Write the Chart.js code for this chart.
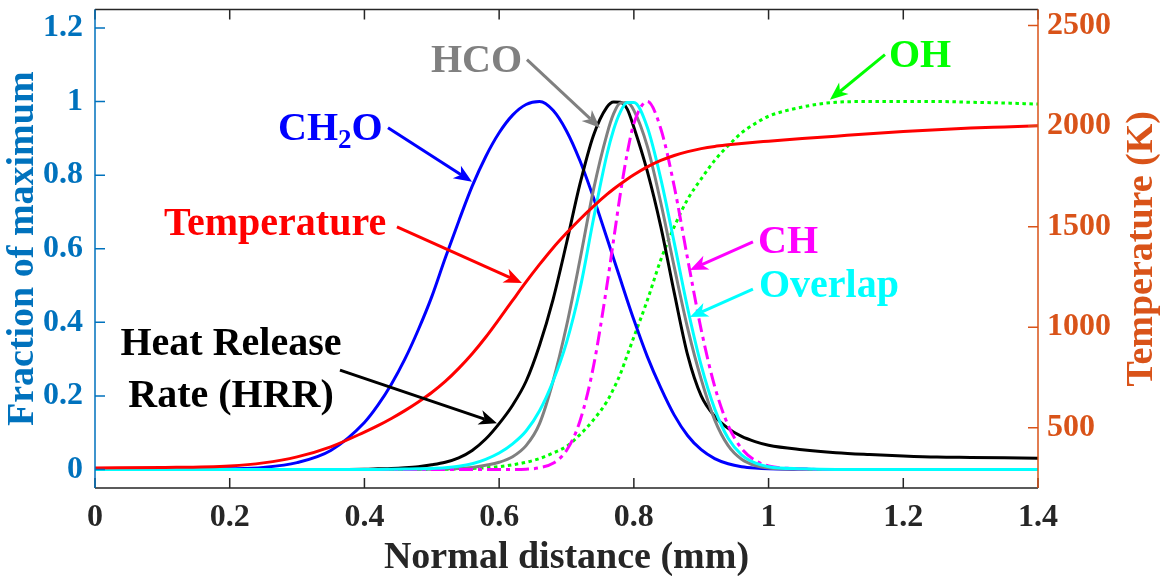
<!DOCTYPE html>
<html>
<head>
<meta charset="utf-8">
<title>Flame structure</title>
<script src="https://cdn.jsdelivr.net/npm/chart.js@4.4.1/dist/chart.umd.min.js"></script>
<style>
  body { margin: 0; background: #fff; }
  #wrap { width: 1160px; height: 576px; }
</style>
</head>
<body>
<div id="wrap"><canvas id="flame-chart"></canvas></div>
<script>
// normal distance through the flame front (mm)
const distance = [0, 0.1, 0.2, 0.25, 0.3, 0.35,
    0.4, 0.42, 0.44, 0.46, 0.48, 0.5, 0.52, 0.54, 0.56, 0.58,
    0.6, 0.62, 0.64, 0.66, 0.68, 0.7, 0.72, 0.74, 0.76,
    0.77, 0.78, 0.79,
    0.8, 0.82, 0.84, 0.86, 0.88, 0.9, 0.92, 0.94, 0.96, 0.98,
    1.0, 1.05, 1.1, 1.15, 1.2, 1.25, 1.3, 1.35, 1.4];

// fractions of maximum (left axis)
const ch2o = [0, 0, 0.002, 0.006, 0.019, 0.052,
    0.128, 0.175, 0.232, 0.3, 0.38, 0.47, 0.575, 0.675, 0.77, 0.85,
    0.915, 0.963, 0.992, 1.0, 0.976, 0.92, 0.839, 0.739, 0.629,
    0.573, 0.517, 0.461,
    0.407, 0.307, 0.222, 0.148, 0.092, 0.054, 0.03, 0.016, 0.008, 0.004,
    0.002, 0.001, 0, 0, 0, 0, 0, 0, 0];
const hrr = [0, 0, 0, 0, 0, 0.0005,
    0.001, 0.002, 0.003, 0.005, 0.008, 0.013, 0.02, 0.032, 0.052, 0.083,
    0.125, 0.175, 0.24, 0.338, 0.462, 0.615, 0.776, 0.908, 0.985,
    0.999, 0.998, 0.98,
    0.93, 0.81, 0.66, 0.48, 0.31, 0.2, 0.145, 0.112, 0.09, 0.076,
    0.066, 0.054, 0.046, 0.041, 0.037, 0.034, 0.033, 0.032, 0.031];
const hco = [0, 0, 0, 0, 0, 0,
    0, 0, 0, 0, 0.0005, 0.001, 0.002, 0.003, 0.006, 0.012,
    0.02, 0.035, 0.065, 0.125, 0.24, 0.39, 0.57, 0.76, 0.911,
    0.967, 0.996, 0.997,
    0.976, 0.878, 0.725, 0.55, 0.383, 0.245, 0.135, 0.065, 0.028, 0.011,
    0.004, 0.001, 0, 0, 0, 0, 0, 0, 0];
const ch = [0, 0, 0, 0, 0, 0,
    0, 0, 0, 0, 0, 0, 0, 0, 0, 0,
    0, 0, 0.001, 0.005, 0.017, 0.052, 0.132, 0.28, 0.5,
    0.625, 0.75, 0.858,
    0.94, 1.0, 0.926, 0.769, 0.571, 0.38, 0.226, 0.12, 0.057, 0.025,
    0.01, 0.002, 0, 0, 0, 0, 0, 0, 0];
const overlap = [0, 0, 0, 0, 0, 0,
    0, 0.0005, 0.001, 0.0015, 0.002, 0.003, 0.005, 0.009, 0.016, 0.028,
    0.045, 0.07, 0.105, 0.16, 0.24, 0.345, 0.49, 0.68, 0.856,
    0.924, 0.972, 0.997,
    0.997, 0.93, 0.79, 0.616, 0.437, 0.283, 0.165, 0.085, 0.04, 0.018,
    0.008, 0.002, 0, 0, 0, 0, 0, 0, 0];
const oh = [0, 0, 0, 0, 0, 0,
    0, 0, 0, 0, 0, 0, 0.001, 0.002, 0.003, 0.005,
    0.008, 0.013, 0.02, 0.03, 0.045, 0.063, 0.095, 0.135, 0.185,
    0.22, 0.26, 0.31,
    0.36, 0.46, 0.57, 0.66, 0.735, 0.79, 0.84, 0.88, 0.915, 0.94,
    0.96, 0.985, 0.998, 1.0, 1.0, 1.0, 0.998, 0.996, 0.993];

// temperature (K, right axis)
const temperature = [300, 302, 310, 325, 355, 405,
    478, 510, 546, 585, 628, 675, 730, 795, 868, 950,
    1040, 1133, 1225, 1312, 1394, 1468, 1537, 1601, 1660,
    1687, 1712, 1736,
    1758, 1797, 1829, 1854, 1873, 1888, 1899, 1907, 1914, 1920,
    1925, 1938, 1950, 1962, 1973, 1982, 1990, 1996, 2002];

const distanceTicks = [0, 0.2, 0.4, 0.6, 0.8, 1, 1.2, 1.4];
const fractionTicks = [0, 0.2, 0.4, 0.6, 0.8, 1, 1.2];
const temperatureTicks = [500, 1000, 1500, 2000, 2500];

const FONT = '"Liberation Serif", "Times New Roman", serif';
const LEFT_BLUE = '#0072BD';
const RIGHT_ORANGE = '#D95319';
const AXIS_GREY = '#262626';

// callouts, placed in (distance, fraction) units; '|' marks a subscript
const notes = [
    { text: 'CH|2|O', color: '#0000FF', at: [0.2717, 0.896], tail: [0.435, 0.929], tip: [0.5597, 0.782] },
    { text: 'HCO', color: '#808080', at: [0.4988, 1.0811], tail: [0.6413, 1.1137], tip: [0.7496, 0.9287] },
    { text: 'OH', color: '#00FF00', at: [1.1787, 1.0947], tail: [1.1728, 1.1273], tip: [1.0911, 1.0049] },
    { text: 'Temperature', color: '#FF0000', at: [0.1024, 0.6376], tail: [0.4483, 0.6593], tip: [0.6339, 0.507] },
    { text: 'CH', color: '#FF00FF', at: [0.9843, 0.5886], tail: [0.9768, 0.6185], tip: [0.8833, 0.5423] },
    { text: 'Overlap', color: '#00FFFF', at: [0.9857, 0.4688], tail: [0.9768, 0.4906], tip: [0.8833, 0.4144] },
    { text: 'Heat Release', color: '#000000', at: [0.2019, 0.311], align: 'center' },
    { text: 'Rate (HRR)', color: '#000000', at: [0.2019, 0.1695], align: 'center', tail: [0.3637, 0.2702], tip: [0.5968, 0.126] }
];

function toPoints(values) {
    return distance.map((x, i) => ({ x: x, y: values[i] }));
}

function series(label, values, color, order, extra) {
    return Object.assign({
        label: label,
        data: toPoints(values),
        borderColor: color,
        borderWidth: 3,
        pointRadius: 0,
        fill: false,
        cubicInterpolationMode: 'monotone',
        yAxisID: 'y',
        order: order
    }, extra || {});
}

function drawArrow(ctx, x1, y1, x2, y2, color) {
    const ang = Math.atan2(y2 - y1, x2 - x1);
    const len = 18, half = 7.5, notch = 5;
    ctx.strokeStyle = color;
    ctx.fillStyle = color;
    ctx.lineWidth = 3;
    ctx.setLineDash([]);
    ctx.beginPath();
    ctx.moveTo(x1, y1);
    ctx.lineTo(x2 - Math.cos(ang) * (len - notch), y2 - Math.sin(ang) * (len - notch));
    ctx.stroke();
    ctx.save();
    ctx.translate(x2, y2);
    ctx.rotate(ang);
    ctx.beginPath();
    ctx.moveTo(0, 0);
    ctx.lineTo(-len, -half);
    ctx.lineTo(-len + notch, 0);
    ctx.lineTo(-len, half);
    ctx.closePath();
    ctx.fill();
    ctx.restore();
}

// axes box, inward tick marks, axis titles and the callouts
const decorations = {
    id: 'decorations',
    afterDatasetsDraw(chart) {
        const { ctx, chartArea: a, scales } = chart;
        ctx.save();
        ctx.lineWidth = 1.5;
        ctx.strokeStyle = AXIS_GREY;
        ctx.beginPath();
        ctx.moveTo(a.left, a.top); ctx.lineTo(a.right, a.top);
        ctx.moveTo(a.left, a.bottom); ctx.lineTo(a.right, a.bottom);
        for (const v of distanceTicks) {
            const px = scales.x.getPixelForValue(v);
            ctx.moveTo(px, a.bottom); ctx.lineTo(px, a.bottom - 10);
            ctx.moveTo(px, a.top); ctx.lineTo(px, a.top + 10);
        }
        ctx.stroke();

        ctx.strokeStyle = LEFT_BLUE;
        ctx.beginPath();
        ctx.moveTo(a.left, a.top); ctx.lineTo(a.left, a.bottom);
        for (const v of fractionTicks) {
            const py = scales.y.getPixelForValue(v);
            ctx.moveTo(a.left, py); ctx.lineTo(a.left + 10, py);
        }
        ctx.stroke();

        ctx.strokeStyle = RIGHT_ORANGE;
        ctx.beginPath();
        ctx.moveTo(a.right, a.top); ctx.lineTo(a.right, a.bottom);
        for (const v of temperatureTicks) {
            const py = scales.yT.getPixelForValue(v);
            ctx.moveTo(a.right, py); ctx.lineTo(a.right - 10, py);
        }
        ctx.stroke();
        ctx.restore();
    },
    afterDraw(chart) {
        const { ctx, chartArea: a, scales } = chart;
        const midY = (a.top + a.bottom) / 2;
        ctx.save();
        ctx.font = 'bold 38px ' + FONT;
        ctx.textBaseline = 'alphabetic';
        ctx.textAlign = 'center';

        ctx.fillStyle = AXIS_GREY;
        ctx.fillText('Normal distance (mm)', (a.left + a.right) / 2, 568);

        ctx.save();
        ctx.translate(33, midY);
        ctx.rotate(-Math.PI / 2);
        ctx.fillStyle = LEFT_BLUE;
        ctx.fillText('Fraction of maximum', 0, 0);
        ctx.restore();

        ctx.save();
        ctx.translate(1152, midY);
        ctx.rotate(-Math.PI / 2);
        ctx.fillStyle = RIGHT_ORANGE;
        ctx.fillText('Temperature (K)', 0, 0);
        ctx.restore();

        const px = v => scales.x.getPixelForValue(v);
        const py = v => scales.y.getPixelForValue(v);
        for (const n of notes) {
            ctx.fillStyle = n.color;
            const parts = n.text.split('|');
            let x = px(n.at[0]);
            const y = py(n.at[1]);
            if (n.align === 'center') {
                ctx.font = 'bold 40px ' + FONT;
                ctx.textAlign = 'center';
                ctx.fillText(n.text, x, y);
            } else {
                ctx.textAlign = 'left';
                parts.forEach((p, i) => {
                    const sub = i % 2 === 1;
                    ctx.font = 'bold ' + (sub ? 27 : 40) + 'px ' + FONT;
                    ctx.fillText(p, x, sub ? y + 8 : y);
                    x += ctx.measureText(p).width;
                });
            }
            if (n.tail) {
                drawArrow(ctx, px(n.tail[0]), py(n.tail[1]), px(n.tip[0]), py(n.tip[1]), n.color);
            }
        }
        ctx.restore();
    }
};

function tickFont() {
    return { family: FONT, size: 32, weight: 'bold' };
}

function zeroPadding(scale) {
    scale.paddingTop = 0;
    scale.paddingBottom = 0;
    scale.paddingLeft = 0;
    scale.paddingRight = 0;
}

const ctx = document.getElementById('flame-chart');

new Chart(ctx, {
    type: 'line',
    data: {
        datasets: [
            series('CH2O', ch2o, '#0000FF', 7),
            series('HRR', hrr, '#000000', 6),
            series('HCO', hco, '#808080', 5),
            series('CH', ch, '#FF00FF', 4, { borderDash: [14, 5, 4, 5] }),
            series('Overlap', overlap, '#00FFFF', 3),
            series('OH', oh, '#00FF00', 8, { borderDash: [3.5, 3.5] }),
            series('Temperature', temperature, '#FF0000', 1, { yAxisID: 'yT' })
        ]
    },
    options: {
        responsive: true,
        maintainAspectRatio: false,
        animation: false,
        layout: { padding: { top: 9.5, left: 0, right: 0, bottom: 0 } },
        plugins: {
            legend: { display: false },
            tooltip: { enabled: false }
        },
        scales: {
            x: {
                type: 'linear',
                min: 0,
                max: 1.4,
                grid: { display: false, drawTicks: false },
                border: { display: false },
                afterBuildTicks: s => { s.ticks = distanceTicks.map(v => ({ value: v })); },
                afterFit: s => { s.height = 88; zeroPadding(s); },
                ticks: {
                    font: tickFont(),
                    color: AXIS_GREY,
                    padding: 11,
                    autoSkip: false,
                    maxRotation: 0,
                    callback: v => String(v)
                }
            },
            y: {
                type: 'linear',
                position: 'left',
                min: -0.05,
                max: 1.25,
                grid: { display: false, drawTicks: false },
                border: { display: false },
                afterBuildTicks: s => { s.ticks = fractionTicks.map(v => ({ value: v })); },
                afterFit: s => { s.width = 95; zeroPadding(s); },
                ticks: {
                    font: tickFont(),
                    color: LEFT_BLUE,
                    padding: 12,
                    callback: v => String(v)
                }
            },
            yT: {
                type: 'linear',
                position: 'right',
                min: 200,
                max: 2580,
                grid: { display: false, drawTicks: false },
                border: { display: false },
                afterBuildTicks: s => { s.ticks = temperatureTicks.map(v => ({ value: v })); },
                afterFit: s => { s.width = 122; zeroPadding(s); },
                ticks: {
                    font: tickFont(),
                    color: RIGHT_ORANGE,
                    padding: 9,
                    callback: v => String(v)
                }
            }
        }
    },
    plugins: [decorations]
});
</script>
</body>
</html>
